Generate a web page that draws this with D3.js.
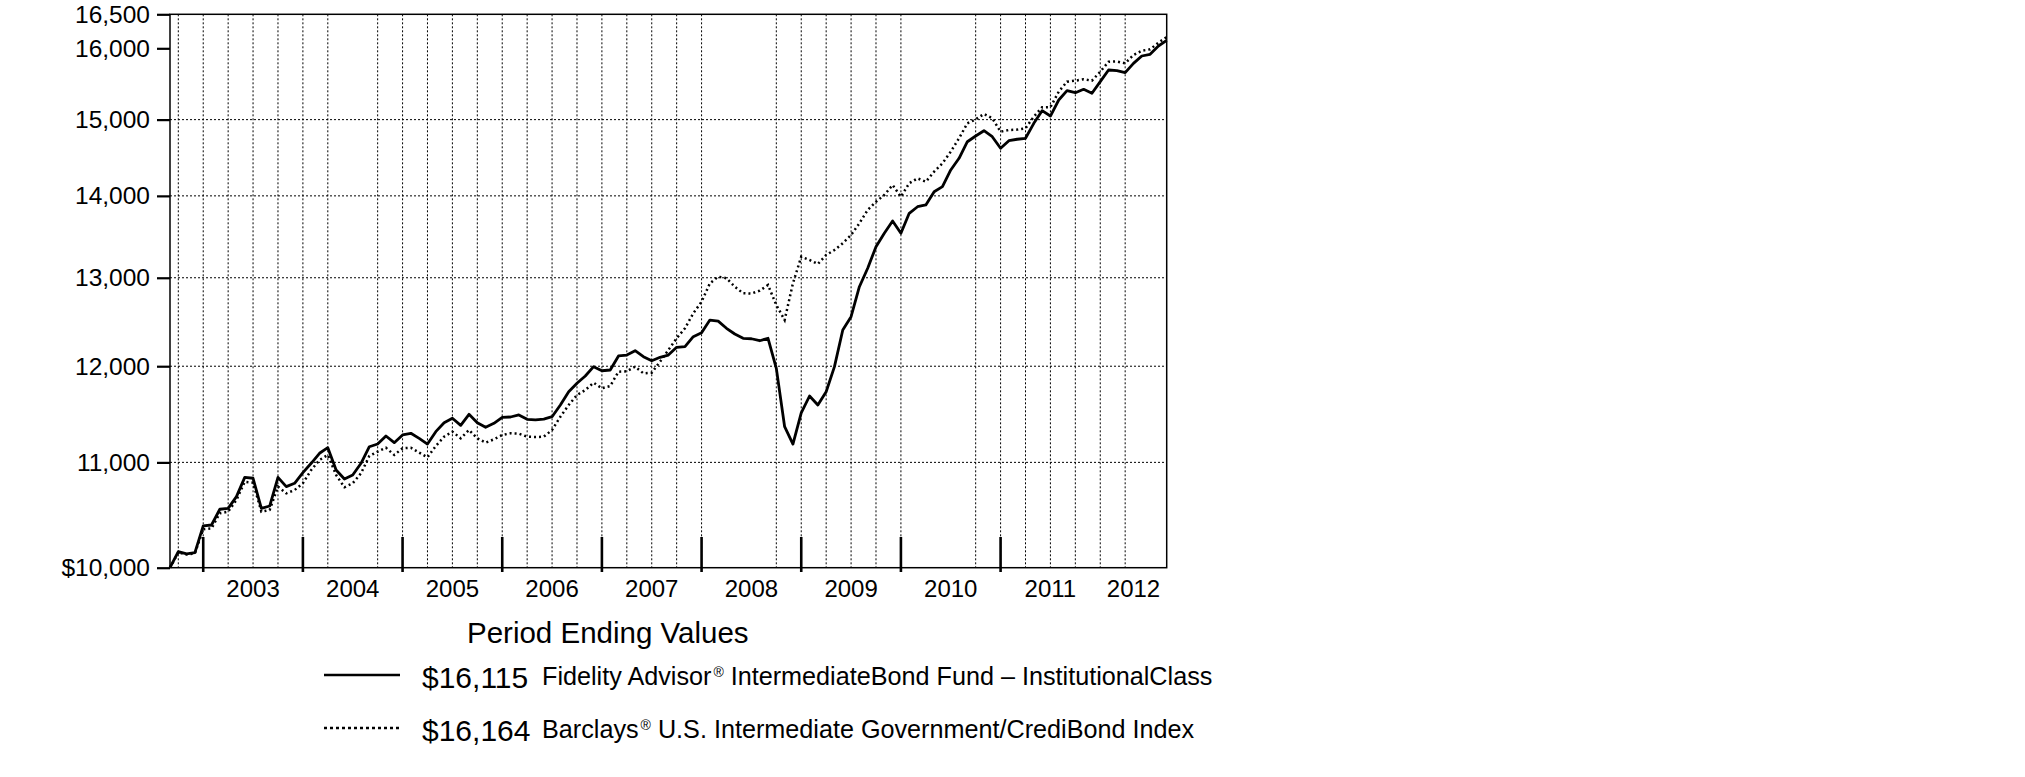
<!DOCTYPE html>
<html><head><meta charset="utf-8">
<script src="https://cdn.jsdelivr.net/npm/d3@7"></script>
<style>
body{margin:0;background:#fff}
svg{display:block}
text{font-family:"Liberation Sans",Arial,Helvetica,sans-serif;fill:#000}
</style>
</head><body>
<svg id="chart" width="2025" height="777"></svg>
<script>
// ---------- DATA ----------
// month-end values, index 0 = Aug 31 2002 ... index 120 = Aug 31 2012
const startYear = 2002, startMonth = 8;
const fundValues = [
10000,10146,10125,10137,10385,10394,10543,10552,10664,10852,
10843,10552,10574,10852,10761,10794,10898,10991,11091,11147,
10924,10836,10875,10991,11157,11184,11266,11198,11276,11293,
11242,11184,11310,11402,11448,11375,11489,11402,11355,11396,
11458,11461,11482,11437,11432,11440,11464,11586,11726,11816,
11894,11995,11951,11959,12112,12122,12170,12104,12060,12097,
12122,12207,12215,12325,12370,12512,12500,12419,12355,12307,
12302,12280,12307,11977,11361,11184,11503,11681,11586,11726,
11995,12400,12550,12895,13112,13371,13534,13685,13534,13781,
13863,13885,14053,14117,14332,14484,14703,14779,14850,14770,
14616,14717,14736,14749,14950,15122,15049,15269,15398,15370,
15417,15362,15524,15689,15680,15651,15784,15889,15914,16033,
16115];
const indexValues = [
10000,10140,10120,10131,10354,10363,10505,10520,10632,10809,
10800,10520,10536,10761,10696,10728,10794,10924,11024,11074,
10875,10755,10794,10892,11064,11107,11147,11074,11141,11147,
11097,11051,11164,11259,11310,11242,11327,11242,11198,11232,
11276,11293,11290,11259,11255,11259,11327,11464,11586,11691,
11744,11822,11763,11787,11941,11945,11995,11923,11930,12049,
12177,12307,12419,12589,12721,12935,13013,12994,12895,12819,
12815,12849,12915,12683,12512,12935,13250,13211,13163,13271,
13331,13412,13513,13657,13822,13926,14011,14138,13989,14160,
14224,14180,14310,14419,14571,14749,14950,15004,15077,15018,
14837,14860,14865,14883,15040,15168,15170,15384,15524,15538,
15558,15538,15665,15807,15810,15784,15903,15965,15985,16081,
16164];
const yTickValues = [10000,11000,12000,13000,14000,15000,16000,16500];
const yTickLabels = ["$10,000","11,000","12,000","13,000","14,000","15,000","16,000","16,500"];
const yGridValues = [11000,12000,13000,14000,15000];
const yearLabels = ["2003","2004","2005","2006","2007","2008","2009","2010","2011","2012"];
// quarter-end gridlines drawn in the reference (year, month)
const gridQuarters = [[2002,9],[2002,12],[2003,3],[2003,6],[2003,9],[2003,12],[2004,3],
 [2004,9],[2004,12],[2005,3],[2005,6],[2005,9],[2005,12],[2006,3],[2006,6],[2006,9],[2006,12],
 [2007,3],[2007,6],[2007,9],[2007,12],[2008,9],[2008,12],[2009,3],[2009,6],[2009,9],[2009,12],
 [2010,9],[2010,12],[2011,3],[2011,6],[2011,9],[2011,12],[2012,3]];
const legendTitle = "Period Ending Values";
const legendValues = ["$16,115","$16,164"];
const legendNames = [
  ["Fidelity Advisor","®"," IntermediateBond Fund \u2013 InstitutionalClass"],
  ["Barclays","®"," U.S. Intermediate Government/CrediBond Index"]];

// ---------- LAYOUT ----------
const L = 170, R = 1166.7, T = 14.3, B = 567.7;
const mi = (y, m) => (y - startYear) * 12 + (m - startMonth);
const x = d3.scaleLinear().domain([0, fundValues.length - 1]).range([L, R]);
const y = d3.scaleLog().domain([10000, 16500]).range([B, T]);
const svg = d3.select("#chart");

// gridlines
const grid = svg.append("g").attr("stroke", "#000").attr("stroke-width", 1).attr("stroke-dasharray", "2,2");
grid.selectAll("line.v").data(gridQuarters).join("line")
  .attr("x1", d => x(mi(d[0], d[1]))).attr("x2", d => x(mi(d[0], d[1])))
  .attr("y1", T).attr("y2", B);
grid.selectAll("line.h").data(yGridValues).join("line")
  .attr("x1", L).attr("x2", R).attr("y1", d => y(d)).attr("y2", d => y(d));

// frame
svg.append("rect").attr("x", L).attr("y", T).attr("width", R - L).attr("height", B - T)
  .attr("fill", "none").attr("stroke", "#000").attr("stroke-width", 1.5);

// y axis
const yAxis = d3.axisLeft(y).tickValues(yTickValues)
  .tickFormat((d, i) => yTickLabels[i]).tickSize(13).tickPadding(7);
const ga = svg.append("g").attr("transform", `translate(${L},0)`).call(yAxis);
ga.select(".domain").remove();
ga.selectAll(".tick line").attr("stroke", "#000").attr("stroke-width", 2.2);
ga.selectAll(".tick text").attr("font-size", 24.5).attr("font-family", "Liberation Sans, Arial, sans-serif");

// year boundary ticks
const yearBounds = yearLabels.slice(0, -1).map((d, i) => mi(+d - 1, 12));
svg.append("g").selectAll("line").data(yearBounds).join("line")
  .attr("x1", d => x(d)).attr("x2", d => x(d)).attr("y1", 537).attr("y2", 572)
  .attr("stroke", "#000").attr("stroke-width", 2.6);

// year labels centred in each year span
svg.append("g").selectAll("text").data(yearLabels).join("text")
  .attr("x", d => {
    const a = Math.max(0, mi(+d - 1, 12)), b = Math.min(fundValues.length - 1, mi(+d, 12));
    return (x(a) + x(b)) / 2;
  })
  .attr("y", 597).attr("text-anchor", "middle").attr("font-size", 24).text(d => d);

// lines
const line = d3.line().x((d, i) => x(i)).y(d => y(d));
svg.append("path").datum(indexValues).attr("d", line).attr("fill", "none")
  .attr("stroke", "#000").attr("stroke-width", 2.5).attr("stroke-dasharray", "2,3");
svg.append("path").datum(fundValues).attr("d", line).attr("fill", "none")
  .attr("stroke", "#000").attr("stroke-width", 2.8).attr("stroke-linejoin", "round");

// legend
svg.append("text").attr("x", 467).attr("y", 643).attr("font-size", 29.5).text(legendTitle);
const rowY = [675, 728];
legendValues.forEach((v, i) => {
  const g = svg.append("g");
  g.append("line").attr("x1", 324).attr("x2", 400).attr("y1", rowY[i]).attr("y2", rowY[i])
    .attr("stroke", "#000").attr("stroke-width", 2.7)
    .attr("stroke-dasharray", i === 1 ? "3,3" : null);
  g.append("text").attr("x", 422).attr("y", rowY[i] + 13).attr("font-size", 30).text(v);
  const t = g.append("text").attr("x", 542).attr("y", rowY[i] + 10).attr("font-size", 25.2);
  t.append("tspan").text(legendNames[i][0]);
  t.append("tspan").attr("font-size", 14).attr("dy", -8).attr("dx", 2).text(legendNames[i][1]);
  t.append("tspan").attr("dy", 8).text(legendNames[i][2]);
});
</script>
</body></html>
